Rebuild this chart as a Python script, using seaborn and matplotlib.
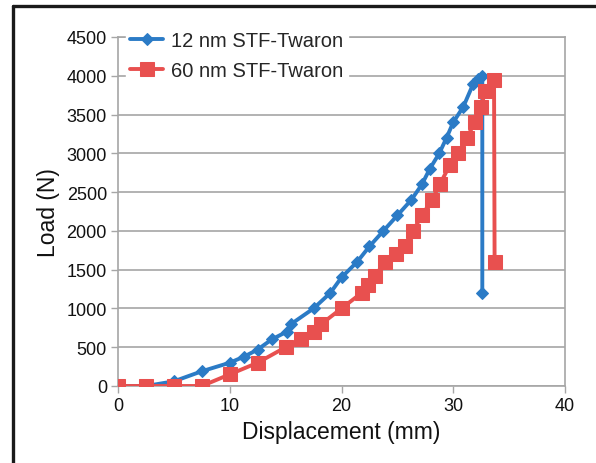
import matplotlib
matplotlib.use("Agg")
import matplotlib.pyplot as plt
import seaborn as sns
import pandas as pd
from matplotlib.lines import Line2D

# ---- data ----
x_12nm = [0, 2.5, 5, 7.5, 10, 11.3, 12.5, 13.75, 15.1, 15.5, 17.5, 19.0, 20.0,
          21.4, 22.5, 23.75, 25.0, 26.25, 27.2, 27.9, 28.75, 29.4, 30.0, 30.9,
          31.8, 32.25, 32.6, 32.6]
y_12nm = [0, 0, 60, 190, 300, 380, 470, 600, 700, 800, 1000, 1200, 1400,
          1600, 1800, 2000, 2200, 2400, 2600, 2800, 3000, 3200, 3400, 3600,
          3900, 3960, 4000, 1200]

x_60nm = [0, 2.5, 5, 7.5, 10, 12.5, 15, 16.4, 17.5, 18.2, 20.0, 21.8, 22.4,
          23.0, 23.9, 24.9, 25.7, 26.4, 27.2, 28.1, 28.8, 29.7, 30.45, 31.2,
          31.95, 32.5, 32.85, 33.65, 33.7]
y_60nm = [0, 0, 0, 0, 150, 300, 500, 600, 700, 800, 1000, 1200, 1300,
          1420, 1600, 1700, 1800, 2000, 2200, 2400, 2600, 2850, 3000, 3200,
          3400, 3600, 3800, 3950, 1600]

series_names = ["12 nm STF-Twaron", "60 nm STF-Twaron"]
x_ticks = [0, 10, 20, 30, 40]
y_ticks = [0, 500, 1000, 1500, 2000, 2500, 3000, 3500, 4000, 4500]

blue = "#2b7bc6"
red = "#e8504f"

sns.set_theme(style="white")
plt.rcParams["font.family"] = ["Liberation Sans", "DejaVu Sans"]

fig = plt.figure(figsize=(5.96, 4.64), dpi=100)
ax = fig.add_axes([118/596, 1-387/464, (565-118)/596, (387-38)/464])

df12 = pd.DataFrame({"x": x_12nm, "y": y_12nm})
df60 = pd.DataFrame({"x": x_60nm, "y": y_60nm})

sns.lineplot(data=df12, x="x", y="y", ax=ax, sort=False, estimator=None,
             color=blue, lw=2.8, marker="D", markersize=6,
             markeredgecolor=blue, label=series_names[0], zorder=3)
sns.lineplot(data=df60, x="x", y="y", ax=ax, sort=False, estimator=None,
             color=red, lw=2.8, marker="s", markersize=9.5,
             markeredgecolor=red, label=series_names[1], zorder=4)

ax.set_xlim(0, 40)
ax.set_ylim(0, 4500)
ax.set_xticks(x_ticks)
ax.set_yticks(y_ticks)
ax.yaxis.grid(True, color="#a6a6a6", lw=1.2)
ax.set_axisbelow(True)
for s in ax.spines.values():
    s.set_color("#a6a6a6")
    s.set_linewidth(1.2)
ax.tick_params(axis="both", which="major", length=5, width=1.0, color="#a6a6a6",
               labelsize=13, labelcolor="#111111", direction="out",
               bottom=True, left=True, pad=3)
ax.set_xlabel("Displacement (mm)", fontsize=16.5, color="#111111", labelpad=4)
ax.set_ylabel("Load (N)", fontsize=16.5, color="#111111", labelpad=5)

leg = ax.legend(loc="upper left", bbox_to_anchor=(0.018, 1.03), frameon=True,
                fontsize=14.5, handlelength=1.65, handletextpad=0.4,
                borderpad=0.2, labelspacing=0.55, borderaxespad=0.0,
                fancybox=False)
leg.get_frame().set_facecolor("white")
leg.get_frame().set_edgecolor("white")
leg.get_frame().set_alpha(1.0)
leg.set_zorder(10)

# outer black frame (image crop)
fig.add_artist(Line2D([13/596, 13/596], [0, 1-7/464], color="#1a1a1a",
                      lw=2.4, transform=fig.transFigure))
fig.add_artist(Line2D([13/596, 1.0], [1-7/464, 1-7/464], color="#1a1a1a",
                      lw=2.4, transform=fig.transFigure))

fig.savefig("out.png", dpi=100)
